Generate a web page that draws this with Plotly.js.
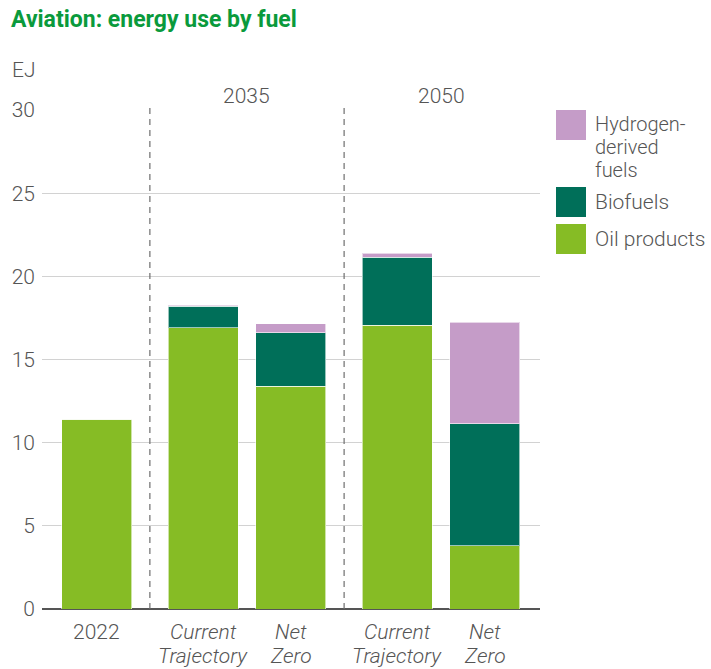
<!DOCTYPE html>
<html>
<head>
<meta charset="utf-8">
<script src="https://cdn.plot.ly/plotly-3.0.1.min.js"></script>
<style>html,body{margin:0;padding:0;background:#fff;}#chart{width:711px;height:669px;}</style>
</head>
<body>
<div id="chart"></div>
<script>
// ---- data ----
const groups = ["", "2035", "2035", "2050", "2050"];
const groupTitles = ["2035", "2050"];
const categories = ["2022", "Current<br>Trajectory", "Net<br>Zero", "Current<br>Trajectory", "Net<br>Zero"];
const seriesNames = ["Oil products", "Biofuels", "Hydrogen-<br>derived<br>fuels"];
const oilProducts = [11.4, 16.9, 13.4, 17.05, 3.8];
const biofuels = [0.0, 1.3, 3.2, 4.1, 7.35];
const hydrogen = [0.05, 0.05, 0.55, 0.25, 6.1];
const colors = ["#86bc25", "#006f59", "#c59cc8"];

const FONT = "Roboto";
const TXT = "#555";
const W = 711, H = 669;
const mL = 42, mR = 171, mT = 110, mB = 60;
const pw = W - mL - mR, ph = H - mT - mB;
function px2paperX(px) { return (px - mL) / pw; }
function px2paperY(py) { return (H - mB - py) / ph; }

// ---- positions: gap between groups larger ----
const xs = [];
let pos = 0;
for (let i = 0; i < categories.length; i++) {
  if (i > 0) pos += (groups[i] !== groups[i - 1]) ? 1.22 : 1.0;
  xs.push(pos);
}

const values = [oilProducts, biofuels, hydrogen];
const traces = values.map((v, k) => ({
  type: "bar", x: xs, y: v, name: seriesNames[k], width: 0.8,
  marker: {color: colors[k], line: {color: "rgba(255,255,255,0.6)", width: 1}},
  showlegend: false, hoverinfo: "y+name"
}));

const shapes = [];
const annotations = [];
const lightFont = (size, color) => ({size: size, color: color || TXT, family: FONT, weight: 300});

// category labels (one annotation per line)
categories.forEach((c, i) => {
  c.split("<br>").forEach((line, j) => {
    annotations.push({xref: "x", yref: "paper", x: xs[i], y: px2paperY(632 + j * 24), yanchor: "middle",
      text: groups[i] ? "<i>" + line + "</i>" : line, showarrow: false, font: lightFont(21)});
  });
});

// separators between groups & group titles
for (let i = 1; i < xs.length; i++) {
  if (groups[i] !== groups[i - 1]) {
    const sx = (xs[i] + xs[i - 1]) / 2;
    shapes.push({type: "line", xref: "x", yref: "paper", x0: sx, x1: sx, y0: 0, y1: 1.005,
      line: {color: "#6e6e6e", width: 1.2, dash: "6px,5px"}, layer: "above"});
  }
}
groupTitles.forEach(g => {
  const idx = groups.map((gg, i) => gg === g ? i : -1).filter(i => i >= 0);
  const cx = (xs[idx[0]] + xs[idx[idx.length - 1]]) / 2;
  annotations.push({xref: "x", yref: "paper", x: cx, y: px2paperY(96), yanchor: "middle",
    text: g, showarrow: false, font: lightFont(21)});
});

// custom legend (top to bottom: hydrogen, biofuels, oil)
const legendItems = [
  {k: 2, top: 110, h: 30},
  {k: 1, top: 187, h: 30},
  {k: 0, top: 224, h: 30}
];
legendItems.forEach(it => {
  shapes.push({type: "rect", xref: "paper", yref: "paper",
    x0: px2paperX(556), x1: px2paperX(586), y0: px2paperY(it.top + it.h), y1: px2paperY(it.top),
    fillcolor: colors[it.k], line: {width: 0}});
  const lines = seriesNames[it.k].split("<br>");
  const multi = lines.length > 1;
  const firstY = multi ? 124 : it.top + 15;
  lines.forEach((line, j) => {
    annotations.push({xref: "paper", yref: "paper", x: px2paperX(593), y: px2paperY(firstY + j * 23),
      xanchor: "left", yanchor: "middle", align: "left",
      text: line, showarrow: false, font: lightFont(multi ? 20 : 21)});
  });
});
// EJ unit label
annotations.push({xref: "paper", yref: "paper", x: px2paperX(10), y: px2paperY(70), xanchor: "left", yanchor: "middle",
  text: "EJ", showarrow: false, font: lightFont(21)});

const layout = {
  width: W, height: H,
  margin: {l: mL, r: mR, t: mT, b: mB},
  paper_bgcolor: "#fff", plot_bgcolor: "#fff",
  barmode: "stack",
  font: {family: FONT, color: TXT},
  title: {text: "<b>Aviation: energy use by fuel</b>", x: 11 / W, xanchor: "left", y: 1 - 19 / H, yanchor: "middle",
    font: {size: 23, color: "#0a9a3c", family: FONT}},
  xaxis: {range: [-0.623, 5.069], tickvals: xs, showticklabels: false, showgrid: false, zeroline: false,
    showline: false, ticks: "", fixedrange: true},
  yaxis: {range: [0, 30], dtick: 5, showgrid: true, gridcolor: "#d2d2d2", gridwidth: 1,
    zeroline: true, zerolinecolor: "#555", zerolinewidth: 2.5, ticks: "", ticklabelstandoff: 6,
    tickfont: lightFont(21), fixedrange: true},
  shapes: shapes, annotations: annotations, showlegend: false
};
Plotly.newPlot("chart", traces, layout, {displayModeBar: false, staticPlot: true});
</script>
</body>
</html>
